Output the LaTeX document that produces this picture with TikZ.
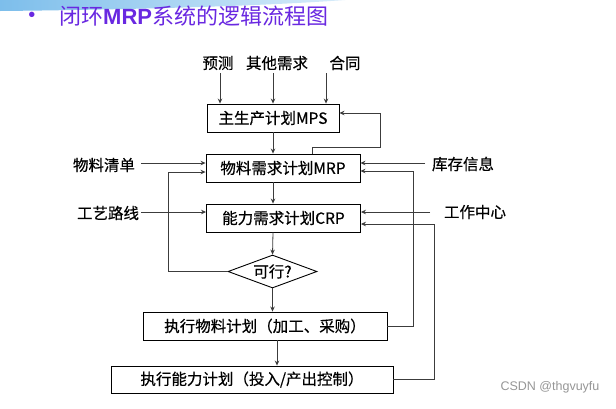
\documentclass[tikz,border=0pt]{standalone}
\usepackage{fontspec}
\setmainfont{Noto Sans CJK SC}
\newfontfamily\heavycjk{Noto Sans CJK SC}[FakeBold=0.5]
\newfontfamily\arialfont{Liberation Sans}
\usetikzlibrary{arrows.meta,shapes.geometric}
\definecolor{titlepurple}{RGB}{105,40,225}
\definecolor{swooshA}{RGB}{125,190,235}
\definecolor{swooshB}{RGB}{215,236,250}
\definecolor{linegray}{RGB}{60,60,60}
\definecolor{wmgray}{RGB}{150,150,150}
\begin{document}
\begin{tikzpicture}[x=1pt,y=-1pt,
  txt/.style={inner sep=0pt,font=\heavycjk\fontsize{15.5}{18}\selectfont},
  box/.style={draw=black,line width=0.9pt,minimum width=#1,minimum height=28pt,inner sep=0pt,font=\heavycjk\fontsize{15.5}{18}\selectfont},
  dia/.style={draw=black,line width=0.9pt,diamond,aspect=2.7,minimum width=89pt,minimum height=33pt,inner sep=0pt,font=\heavycjk\fontsize{15.5}{18}\selectfont},
  conn/.style={draw=linegray,line width=0.8pt,-{Stealth[length=5pt,width=4.5pt]}},
  plain/.style={draw=linegray,line width=0.8pt}]
\useasboundingbox (0,0) rectangle (616,408);
\fill[white] (0,0) rectangle (616,408);
% decorative swoosh
\shade[left color=swooshA,right color=swooshB] (0,0) -- (345,0) .. controls (250,7) and (100,10) .. (0,11) -- cycle;
% title
\node[text=titlepurple,inner sep=0pt,font=\arialfont\fontsize{20}{22}\selectfont] (bullet) at (32,17) {•};
\node[text=titlepurple,inner sep=0pt,anchor=west,font=\fontsize{22}{25}\selectfont] (title) at (59,16) {闭环{\arialfont\bfseries MRP}系统的逻辑流程图};
% top labels
\node[txt] (yc) at (218,63) {预测};
\node[txt] (qt) at (277,63) {其他需求};
\node[txt] (ht) at (345,63) {合同};
\coordinate (t1) at (220,73);
\coordinate (t2) at (273,73);
\coordinate (t3) at (326,73);
% boxes
\node[box=132pt] (mps) at (273,118) {主生产计划MPS};
\node[box=154pt] (mrp) at (283,168) {物料需求计划MRP};
\node[box=154pt] (crp) at (283.5,218) {能力需求计划CRP};
\node[dia] (kx) at (272.5,271.5) {可行?};
\node[box=244pt] (zw) at (265,326) {执行物料计划（加工、采购）};
\node[box=282pt,minimum height=27pt] (zn) at (252,379.5) {执行能力计划（投入/产出控制）};
% side labels
\node[txt] (wlqd) at (104,165) {物料清单};
\node[txt] (gylx) at (108,213) {工艺路线};
\node[txt] (kcxx) at (463,164) {库存信息};
\node[txt] (gzzx) at (475,212) {工作中心};
\coordinate (l1) at (141,163);
\coordinate (l2) at (141,212);
\coordinate (r1) at (425,163);
\coordinate (r2) at (430,212);
% arrows top
\draw[conn] (t1) -- (t1 |- mps.north);
\draw[conn] (t2) -- (t2 |- mps.north);
\draw[conn] (t3) -- (t3 |- mps.north);
% main flow
\draw[conn] (mps.south) -- (mps.south |- mrp.north);
\draw[conn] (273,0 |- mrp.south) -- (273,0 |- crp.north);
\draw[conn] (273,0 |- crp.south) -- (kx.north);
\draw[conn] (kx.south) -- (kx.south |- zw.north);
\draw[conn] (277,0 |- zw.south) -- (277,0 |- zn.north);
% side inputs
\draw[conn] (l1) -- (l1 -| mrp.west);
\draw[conn] (l2) -- (l2 -| crp.west);
\draw[conn] (r1) -- (r1 -| mrp.east);
\draw[conn] (r2) -- (r2 -| crp.east);
% feedback loops
\draw[conn] (312,0 |- mrp.north) -- (312,147) -- (380,147) -- (380,113) -- (mps.east |- 0,113);
\draw[conn] (kx.west) -- (168,0 |- kx.west) -- (168,172) -- (mrp.west |- 0,172);
\draw[conn] (zw.east) -- (413,0 |- zw.east) -- (413,171) -- (mrp.east |- 0,171);
\draw[conn] (zn.east) -- (434,0 |- zn.east) -- (434,224) -- (crp.east |- 0,224);
% watermark
\node[text=wmgray,inner sep=0pt,font=\arialfont\fontsize{12.5}{14}\selectfont] (wm) at (550,387) {CSDN @thgvuyfu};
\end{tikzpicture}
\end{document}
